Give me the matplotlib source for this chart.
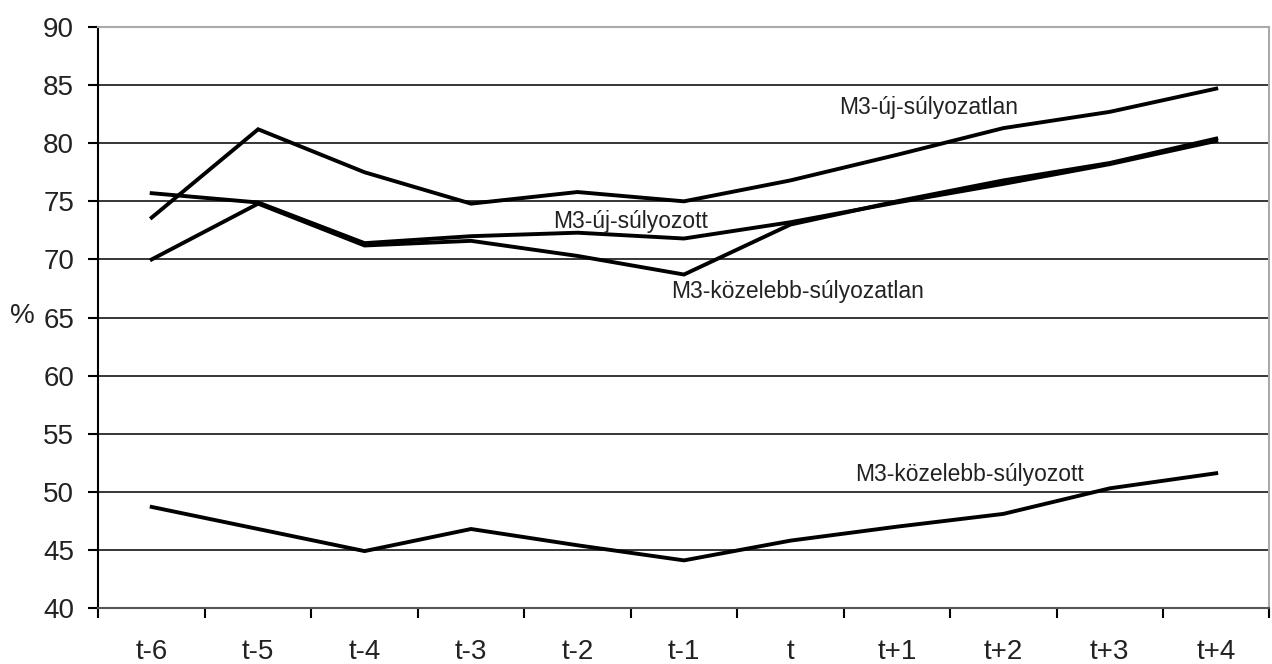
import matplotlib.pyplot as plt
import numpy as np

plt.rcParams['font.family'] = ['Liberation Sans', 'DejaVu Sans']

idoszakok = ['t-6', 't-5', 't-4', 't-3', 't-2', 't-1', 't', 't+1', 't+2', 't+3', 't+4']

uj_sulyozatlan = [73.6, 81.2, 77.5, 74.8, 75.8, 75.0, 76.8, 79.0, 81.3, 82.7, 84.7]
uj_sulyozott = [75.7, 74.9, 71.4, 72.0, 72.3, 71.8, 73.2, 74.9, 76.5, 78.2, 80.2]
kozelebb_sulyozatlan = [70.0, 74.8, 71.2, 71.6, 70.3, 68.7, 73.0, 75.0, 76.8, 78.3, 80.4]
kozelebb_sulyozott = [48.7, 46.8, 44.9, 46.8, 45.4, 44.1, 45.8, 47.0, 48.1, 50.3, 51.6]

sorozatok = [uj_sulyozatlan, uj_sulyozott, kozelebb_sulyozatlan, kozelebb_sulyozott]

# feliratok helye (kategoria index, ertek)
feliratok = [
    ('M3-új-súlyozatlan', 7.3, 83.1),
    ('M3-új-súlyozott', 4.5, 73.3),
    ('M3-közelebb-súlyozatlan', 6.07, 67.2),
    ('M3-közelebb-súlyozott', 7.68, 51.45),
]

fig = plt.figure(figsize=(12.72, 6.64), dpi=100)
ax = fig.add_axes([0.0774, 0.0843, 0.9206, 0.875])

x = np.arange(len(idoszakok))
for sor in sorozatok:
    ax.plot(x, sor, color='black', lw=2.8, solid_joinstyle='miter', zorder=3)

for szoveg, xi, yi in feliratok:
    ax.text(xi, yi, szoveg, ha='center', va='center', fontsize=16.5, color='#222222', zorder=4)

ax.set_xlim(-0.5, len(idoszakok) - 0.5)
ax.set_ylim(40, 90)
ax.set_yticks(range(40, 91, 5))
ax.yaxis.grid(True, color='black', lw=1.1, zorder=1)
ax.set_axisbelow(True)

ax.set_xticks(x)
ax.set_xticklabels(idoszakok)
ax.set_xticks(np.arange(-0.5, len(idoszakok), 1), minor=True)
ax.tick_params(axis='x', which='major', length=0, pad=22, labelsize=20, colors='#222222')
ax.tick_params(axis='x', which='minor', length=7.5, width=1.5, color='black')
ax.tick_params(axis='y', length=7.5, width=1.5, pad=10, labelsize=20, labelcolor='#222222')

ax.spines['left'].set_color('black')
ax.spines['left'].set_linewidth(1.5)
ax.spines['bottom'].set_color('#555555')
ax.spines['bottom'].set_linewidth(1.5)
for s in ['top', 'right']:
    ax.spines[s].set_color('#aaaaaa')
    ax.spines[s].set_linewidth(1.5)

fig.text(0.008, 1 - 316 / 664, '%', fontsize=20, va='center', ha='left', color='#222222')

plt.savefig('out.png', dpi=100)
